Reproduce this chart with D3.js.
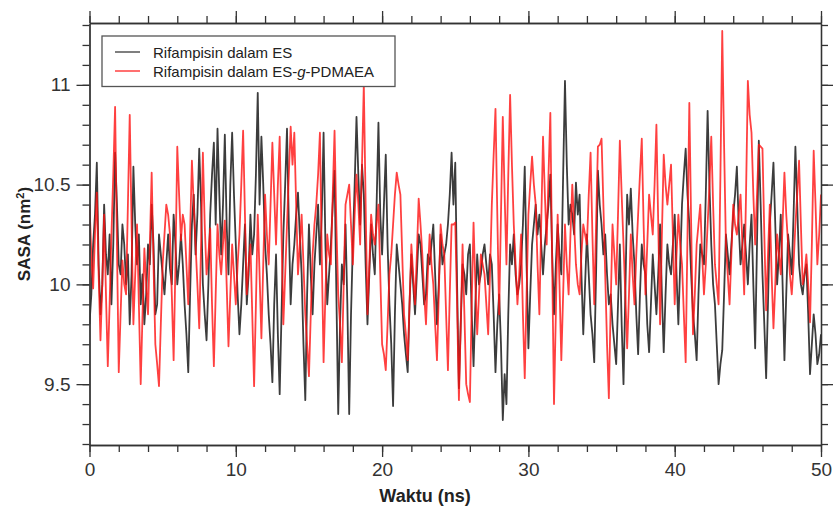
<!DOCTYPE html>
<html><head><meta charset="utf-8">
<script src="https://cdn.jsdelivr.net/npm/d3@7"></script>
<style>
html,body{margin:0;padding:0;background:#fff;}
svg{display:block;font-family:"Liberation Sans",Arial,Helvetica,sans-serif;}
</style></head>
<body>
<svg id="chart" width="834" height="506"></svg>
<script>
// ---- data (0 to 50 ns) ----
const timeRange = [0, 50];
const seriesNames = ["Rifampisin dalam ES", "Rifampisin dalam ES-g-PDMAEA"];
const sasaES = [
9.80,9.95,10.20,10.35,10.61,10.10,9.85,10.00,10.40,10.15,10.05,10.25,9.90,10.20,10.66,10.40,10.10,10.05,10.30,10.20,
10.00,10.15,9.80,10.05,10.59,10.30,10.10,10.25,9.90,10.05,9.80,9.95,10.20,10.10,10.40,10.20,9.85,9.90,10.25,10.15,
10.05,9.95,10.10,10.25,10.08,10.00,10.35,10.20,10.00,10.10,10.25,10.10,9.90,9.75,9.56,9.95,10.30,10.45,10.15,10.35,
10.68,10.40,10.00,9.85,9.72,10.00,10.35,10.55,10.71,10.30,10.78,10.45,10.15,10.40,10.75,10.30,10.05,10.50,10.76,10.45,
10.20,9.95,9.75,9.90,10.10,10.30,9.90,10.05,10.35,10.15,10.25,10.55,10.96,10.40,10.74,10.50,10.20,10.05,9.85,9.70,
9.51,9.90,10.15,9.75,9.45,9.85,10.25,10.50,10.78,10.30,9.90,10.10,10.20,10.35,10.46,10.25,10.05,9.70,9.42,9.95,
10.30,10.05,9.85,10.10,10.25,10.40,10.10,10.35,10.76,10.20,9.90,10.05,10.20,10.40,10.57,9.95,9.35,9.80,10.10,10.00,
10.30,9.90,9.35,9.85,10.20,10.50,10.84,10.55,10.30,10.60,10.45,10.10,9.80,10.05,10.30,10.15,10.05,10.40,10.81,10.35,
10.15,10.40,10.65,10.20,9.90,9.70,9.39,9.85,10.20,10.10,10.00,9.90,9.75,9.65,9.56,9.90,10.15,10.00,9.85,10.05,
10.25,10.20,10.05,9.90,9.95,10.15,10.10,10.20,10.30,10.05,9.80,10.00,10.25,10.10,10.15,10.20,10.30,10.45,10.66,10.40,
10.61,10.00,9.48,9.80,10.10,10.05,9.95,10.15,10.20,9.85,9.59,9.90,10.15,10.00,10.05,10.15,10.20,10.10,10.00,10.15,
10.10,9.85,9.56,9.80,9.95,9.70,9.32,9.55,9.40,9.85,10.20,10.10,10.25,10.05,9.95,10.00,10.10,10.30,10.59,10.10,
9.68,9.95,10.20,10.30,10.40,10.25,10.35,10.20,10.05,10.20,10.30,10.40,10.55,10.15,9.85,10.10,10.30,10.15,10.05,10.55,
11.02,10.60,10.30,10.40,10.35,10.25,10.51,10.35,10.45,10.05,9.75,10.00,10.25,10.05,9.85,9.75,9.61,10.05,10.57,10.40,
10.30,10.15,10.25,10.05,9.90,9.95,9.80,9.70,9.60,9.90,10.20,9.80,9.50,9.95,10.45,10.30,10.48,10.25,10.10,9.85,
9.65,9.95,10.20,10.10,10.05,9.80,9.66,9.90,10.15,10.00,9.85,10.05,10.30,9.95,9.66,9.95,10.20,10.10,10.05,10.20,
10.35,10.05,9.80,10.10,10.40,10.55,10.68,10.45,10.30,10.05,9.85,9.75,9.62,9.95,10.20,10.15,10.10,10.45,10.87,10.50,
10.20,10.00,9.90,9.70,9.50,9.60,9.67,9.95,10.25,10.15,10.05,10.20,10.35,10.45,10.59,10.30,10.10,10.20,10.30,10.15,
10.00,10.20,10.35,10.00,9.68,10.20,10.72,10.40,10.05,9.80,9.53,9.90,10.30,10.45,10.61,10.30,10.00,10.15,10.35,10.00,
9.62,9.95,10.25,10.15,10.05,10.35,10.69,10.40,10.10,10.00,9.95,10.05,10.10,9.85,9.55,9.70,9.85,9.75,9.60,9.65,
9.75];
const sasaESgPDMAEA = [
10.40,10.15,9.98,10.25,10.46,10.05,9.72,10.00,10.35,9.95,9.59,9.90,10.25,10.55,10.89,10.20,9.56,9.85,10.12,10.00,
9.95,10.40,10.85,10.30,9.80,10.05,10.30,9.90,9.50,9.85,10.18,10.00,9.85,10.20,10.56,10.10,9.70,9.60,9.49,9.80,
10.10,10.25,10.40,10.35,10.25,9.95,9.62,10.10,10.69,10.45,10.22,10.35,10.30,10.10,9.90,10.25,10.62,10.40,10.20,10.00,
9.78,10.20,10.66,10.30,10.05,10.15,10.28,9.90,9.59,9.95,10.30,10.15,10.05,10.20,10.32,10.00,9.69,9.95,10.20,10.05,
9.90,10.10,10.25,10.50,10.77,10.35,9.95,10.10,10.20,9.85,9.49,9.90,10.35,10.05,9.73,10.10,10.45,10.25,10.10,10.40,
10.71,10.45,10.20,10.50,10.74,10.25,9.80,10.05,10.30,10.55,10.79,10.60,10.76,10.40,10.05,10.20,10.35,10.10,9.85,9.70,
9.54,9.85,10.15,10.30,10.40,10.55,10.76,10.15,9.61,9.95,10.25,10.15,10.10,10.45,10.77,10.30,9.95,9.80,9.61,10.00,
10.40,10.45,10.50,10.30,10.10,10.35,10.55,10.40,10.20,10.60,11.00,10.40,9.85,10.10,10.35,10.25,10.20,10.30,10.40,10.05,
9.70,9.65,9.57,9.80,10.05,10.15,10.30,10.45,10.56,10.50,10.45,10.15,9.85,9.75,9.62,9.90,10.20,10.05,9.90,10.15,
10.43,10.30,10.15,9.95,9.80,10.05,10.25,10.10,10.00,9.80,9.62,9.95,10.30,10.20,10.15,9.85,9.57,9.95,10.30,10.30,
10.31,9.90,9.42,9.80,10.20,9.85,9.50,9.45,9.41,9.90,10.31,10.00,9.75,9.95,10.15,10.10,10.05,9.90,9.75,10.05,
10.40,10.65,10.88,10.35,9.85,10.35,10.84,10.45,10.10,10.55,10.95,10.60,10.30,10.10,9.90,10.05,10.25,9.85,9.53,9.95,
10.35,10.50,10.64,10.50,10.40,10.10,9.85,10.30,10.74,10.45,10.20,10.55,10.86,10.10,9.40,9.85,10.35,10.00,9.62,9.95,
10.30,10.10,9.95,10.25,10.50,10.30,10.10,10.00,9.95,10.15,10.30,10.25,10.20,10.45,10.66,10.25,9.90,10.30,10.69,10.70,
10.73,10.40,10.05,9.70,9.43,9.90,10.30,10.15,10.00,10.35,10.72,10.45,10.20,9.95,9.68,9.95,10.25,10.05,9.90,10.15,
10.35,10.55,10.73,10.30,9.95,10.20,10.45,10.35,10.25,10.50,10.80,10.30,9.80,10.25,10.65,10.50,10.40,10.50,10.60,10.25,
9.90,10.15,10.35,10.20,10.10,9.85,9.61,10.25,10.91,10.30,9.75,9.95,10.20,10.30,10.40,10.15,9.95,10.10,10.30,10.50,
10.74,10.40,10.10,10.00,9.90,10.55,11.27,10.70,10.20,10.05,9.90,10.15,10.40,10.30,10.25,10.35,10.45,10.20,9.95,10.45,
11.02,10.85,10.76,10.45,10.20,10.45,10.70,10.69,10.68,10.25,9.87,10.15,10.40,10.05,9.78,10.00,10.25,10.15,10.05,10.30,
10.56,10.35,10.20,10.05,9.95,10.10,10.30,10.45,10.62,10.30,10.00,10.05,10.15,10.00,9.81,10.20,10.67,10.40,10.10,10.25,
10.45];
const xTicks = [0,10,20,30,40,50];
const yTicks = [9.5,10,10.5,11];
const yTickLabels = ["9.5","10","10.5","11"];
const xTitle = "Waktu (ns)";

// ---- layout ----
const svg = d3.select("#chart");
const L = 89.5, R = 821, T = 23, B = 445;
const x = d3.scaleLinear().domain(timeRange).range([L,R]);
const y = d3.scaleLinear().domain([9.195,11.31]).range([B,T]);
const axisColor = "#333";

const mk = arr => { const st = (timeRange[1]-timeRange[0])/(arr.length-1); return arr.map((v,i)=>({t:timeRange[0]+i*st, v})); };
const line = d3.line().x(d=>x(d.t)).y(d=>y(d.v));

svg.append("defs").append("clipPath").attr("id","clip")
  .append("rect").attr("x",L).attr("y",T).attr("width",R-L).attr("height",B-T);

const g = svg.append("g").attr("clip-path","url(#clip)");
g.append("path").datum(mk(sasaES)).attr("d",line)
  .attr("fill","none").attr("stroke","#1a1a1a").attr("stroke-opacity",0.85).attr("stroke-width",1.8).attr("stroke-linejoin","round");
g.append("path").datum(mk(sasaESgPDMAEA)).attr("d",line)
  .attr("fill","none").attr("stroke","#ff1010").attr("stroke-opacity",0.8).attr("stroke-width",1.8).attr("stroke-linejoin","round");

// ---- axes ----
const xMinor = d3.range(0,50.001,2);
const yMinor = d3.range(9.2,11.31,0.1).map(v=>+v.toFixed(1));

function styleAxis(sel){
  sel.selectAll(".domain").attr("stroke",axisColor).attr("stroke-width",1.3);
  sel.selectAll(".tick line").attr("stroke",axisColor).attr("stroke-width",1.3);
  sel.selectAll(".tick text").attr("fill","#333").style("font-size","19px");
}
// minor
svg.append("g").attr("transform",`translate(0,${B})`).call(d3.axisBottom(x).tickValues(xMinor).tickSize(7).tickFormat("").tickSizeOuter(0)).call(styleAxis);
svg.append("g").attr("transform",`translate(0,${T})`).call(d3.axisTop(x).tickValues(xMinor).tickSize(7).tickFormat("").tickSizeOuter(0)).call(styleAxis);
svg.append("g").attr("transform",`translate(${L},0)`).call(d3.axisLeft(y).tickValues(yMinor).tickSize(7).tickFormat("").tickSizeOuter(0)).call(styleAxis);
svg.append("g").attr("transform",`translate(${R},0)`).call(d3.axisRight(y).tickValues(yMinor).tickSize(7).tickFormat("").tickSizeOuter(0)).call(styleAxis);
// major
svg.append("g").attr("transform",`translate(0,${B})`).call(d3.axisBottom(x).tickValues(xTicks).tickSize(12).tickPadding(6).tickSizeOuter(0)).call(styleAxis);
svg.append("g").attr("transform",`translate(0,${T})`).call(d3.axisTop(x).tickValues(xTicks).tickSize(12).tickFormat("").tickSizeOuter(0)).call(styleAxis);
svg.append("g").attr("transform",`translate(${L},0)`).call(d3.axisLeft(y).tickValues(yTicks).tickSize(13).tickPadding(6).tickFormat((d,i)=>yTickLabels[i]).tickSizeOuter(0)).call(styleAxis);
svg.append("g").attr("transform",`translate(${R},0)`).call(d3.axisRight(y).tickValues(yTicks).tickSize(12).tickFormat("").tickSizeOuter(0)).call(styleAxis);

// ---- titles ----
svg.append("text").attr("x",425).attr("y",502).attr("text-anchor","middle")
  .style("font-size","18px").style("font-weight","bold").attr("fill","#222").text(xTitle);
const yt = svg.append("text").attr("transform",`translate(30,${(T+B)/2}) rotate(-90)`).attr("text-anchor","middle")
  .style("font-size","17px").style("font-weight","bold").attr("fill","#222");
yt.append("tspan").text("SASA (nm");
yt.append("tspan").attr("dy",-6).style("font-size","11px").text("2");
yt.append("tspan").attr("dy",6).text(")");

// ---- legend ----
const lg = svg.append("g");
lg.append("rect").attr("x",102).attr("y",36).attr("width",293).attr("height",50.5)
  .attr("fill","#fff").attr("stroke","#555").attr("stroke-width",1.3);
const legColors = ["#1a1a1a","#ff1010"];
[52,71].forEach((yy,i)=>{
  lg.append("line").attr("x1",115).attr("x2",140).attr("y1",yy).attr("y2",yy)
    .attr("stroke",legColors[i]).attr("stroke-opacity",i?0.75:0.7).attr("stroke-width",1.6);
});
lg.append("text").attr("x",153).attr("y",57.5).style("font-size","15px").attr("fill","#222").text(seriesNames[0]);
const t2 = lg.append("text").attr("x",153).attr("y",76.5).style("font-size","15px").attr("fill","#222");
t2.append("tspan").text("Rifampisin dalam ES-");
t2.append("tspan").style("font-style","italic").text("g");
t2.append("tspan").text("-PDMAEA");
</script>
</body></html>
